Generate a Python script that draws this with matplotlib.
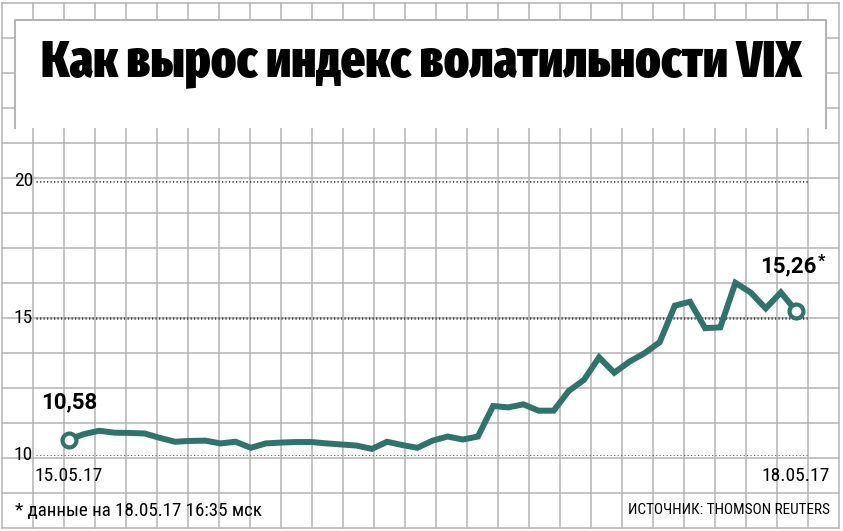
import matplotlib.pyplot as plt
from matplotlib.patches import Rectangle

# VIX values, 15.05.17 - 18.05.17
vix = [10.58, 10.78, 10.90, 10.83, 10.82, 10.80, 10.64, 10.50, 10.53, 10.54,
       10.44, 10.50, 10.28, 10.44, 10.47, 10.49, 10.49, 10.44, 10.40, 10.36,
       10.24, 10.50, 10.38, 10.28, 10.54, 10.69, 10.58, 10.69, 11.80, 11.75,
       11.86, 11.63, 11.63, 12.35, 12.75, 13.57, 13.01, 13.41, 13.72, 14.12,
       15.45, 15.59, 14.63, 14.66, 16.28, 15.93, 15.35, 15.93, 15.26]
y_ticks = [10, 15, 20]
start_label = "10,58"
end_label = "15,26"
date_labels = ["15.05.17", "18.05.17"]
title = "Как вырос индекс волатильности VIX"
note = "* данные на 18.05.17 16:35 мск"
source = "ИСТОЧНИК: THOMSON REUTERS"

W, H = 843, 531
line_c = '#2f7468'
grid_c = '#b4b4b4'
cond = ['Roboto Condensed', 'DejaVu Sans']
heavy = ['Fira Sans Extra Condensed', 'DejaVu Sans']

fig = plt.figure(figsize=(W / 100, H / 100), dpi=100)

# background squared paper, in pixel coords
bg = fig.add_axes([0, 0, 1, 1])
bg.set_xlim(0, W)
bg.set_ylim(H, 0)
bg.axis('off')
for k in range(28):
    x = 2 + 31 * k
    bg.plot([x, x], [2.7, 527.7], color=grid_c, lw=1.1, zorder=1)
for k in range(16):
    y = 2.7 + 35 * k
    bg.plot([2, 839], [y, y], color=grid_c, lw=1.1, zorder=1)

# title box
bg.add_patch(Rectangle((15, 20), 811, 108, facecolor='white', edgecolor='none', zorder=2))
bg.plot([15, 15, 825.5, 825.5], [128, 20, 20, 128], color=grid_c, lw=1.5, zorder=3)
bg.text(421, 76, title, ha='center', va='baseline', fontsize=37, fontweight=900,
        family=heavy, zorder=4)

# data axes
step = 727 / 48
ax = fig.add_axes([36 / W, (H - 455.5) / H, (808 - 36) / W, 275 / H])
ax.set_xlim(-33 / step, 48 + 12 / step)
ax.set_ylim(10, 20)
ax.axis('off')
ax.patch.set_alpha(0)

for v in y_ticks:
    ax.axhline(v, color='#444444', lw=1.8, ls=(0, (0.5, 0.9)), zorder=2)
    ax.text(-0.004, v, str(v), transform=ax.get_yaxis_transform(), ha='right',
            va='center', fontsize=14, family=cond, zorder=3)

xs = list(range(len(vix)))
ax.plot(xs, vix, color=line_c, lw=4.3, solid_joinstyle='miter', clip_on=False, zorder=5)
ax.plot([xs[0], xs[-1]], [vix[0], vix[-1]], 'o', ms=10, mfc='white', mec=line_c,
        mew=3, clip_on=False, zorder=6)

ax.annotate(start_label, (xs[0], vix[0]), xytext=(0, 27), textcoords='offset points',
            ha='center', va='center', fontsize=16, fontweight='bold', family='Roboto')
ax.annotate(end_label, (xs[-1], vix[-1]), xytext=(15, 32), textcoords='offset points',
            ha='right', va='center', fontsize=16, fontweight='bold', family='Roboto')
ax.annotate('*', (xs[-1], vix[-1]), xytext=(16, 36), textcoords='offset points',
            ha='left', va='center', fontsize=12, fontweight='bold', family='Roboto')

ax.annotate(date_labels[0], (xs[0], 10), xytext=(0, -15), textcoords='offset points',
            ha='center', va='center', fontsize=14, family=cond)
ax.annotate(date_labels[1], (xs[-1], 10), xytext=(0, -15), textcoords='offset points',
            ha='center', va='center', fontsize=14, family=cond)

bg.text(15, 511, note, ha='left', va='center', fontsize=13.7, family=cond, zorder=4)
bg.text(830, 510, source, ha='right', va='center', fontsize=11, family=cond, zorder=4)

fig.savefig('out.png', dpi=100)
